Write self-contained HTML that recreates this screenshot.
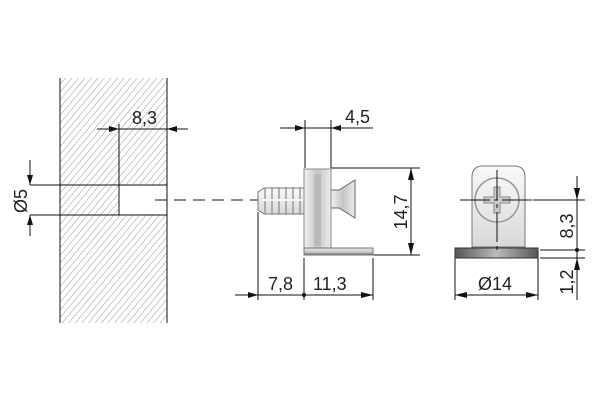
<!DOCTYPE html>
<html><head><meta charset="utf-8"><style>
html,body{margin:0;padding:0;background:#fff}
svg{display:block}
text{font-family:"Liberation Sans","DejaVu Sans",sans-serif;font-size:18px;fill:#222}
</style></head><body>
<svg width="600" height="400" viewBox="0 0 600 400" xmlns="http://www.w3.org/2000/svg">
<defs>
<pattern id="h" patternUnits="userSpaceOnUse" width="5" height="5" patternTransform="rotate(40)">
<line x1="0" y1="0" x2="0" y2="5" stroke="#777" stroke-width="0.8"/>
</pattern>
<marker id="a" viewBox="0 0 10 6" refX="10" refY="3" markerWidth="10" markerHeight="6" orient="auto" markerUnits="userSpaceOnUse">
<path d="M0,0 L10,3 L0,6 Z" fill="#111"/></marker>
<linearGradient id="g" x1="0" x2="1"><stop offset="0" stop-color="#f0f0f0"/><stop offset="0.5" stop-color="#c4c4c4"/><stop offset="1" stop-color="#ececec"/></linearGradient>
<linearGradient id="b" x1="0" x2="1"><stop offset="0" stop-color="#555"/><stop offset="0.5" stop-color="#bbb"/><stop offset="1" stop-color="#555"/></linearGradient>
<linearGradient id="ft" x1="0" x2="0" y1="0" y2="1"><stop offset="0" stop-color="#e8e8e8"/><stop offset="0.6" stop-color="#c8c8c8"/><stop offset="1" stop-color="#666"/></linearGradient>
<linearGradient id="f" x1="0" x2="0" y1="0" y2="1"><stop offset="0" stop-color="#fafafa"/><stop offset="1" stop-color="#d8d8d8"/></linearGradient>
</defs>
<g stroke="#111" stroke-width="1" fill="none">
<rect x="60" y="78" width="107" height="245" fill="url(#h)" stroke="none"/>
<rect x="119" y="185" width="48" height="30" fill="#fff" stroke="none"/>
<line x1="60" y1="78" x2="60" y2="323"/>
<line x1="167" y1="78" x2="167" y2="323"/>
<line x1="30" y1="185" x2="167" y2="185"/>
<line x1="30" y1="215" x2="167" y2="215"/>
<line x1="119" y1="124" x2="119" y2="215"/>
<line x1="97" y1="129" x2="119" y2="129" marker-end="url(#a)"/>
<line x1="188" y1="129" x2="167" y2="129" marker-end="url(#a)"/>
<line x1="119" y1="129" x2="167" y2="129"/>
<line x1="30" y1="160" x2="30" y2="185" marker-end="url(#a)"/>
<line x1="30" y1="236" x2="30" y2="215" marker-end="url(#a)"/>
<line x1="155" y1="200" x2="262" y2="200" stroke-dasharray="12,7"/>
<line x1="305" y1="120" x2="305" y2="168"/>
<line x1="331" y1="120" x2="331" y2="168"/>
<line x1="280" y1="128" x2="305" y2="128" marker-end="url(#a)"/>
<line x1="373" y1="128" x2="331" y2="128" marker-end="url(#a)"/>
<line x1="305" y1="128" x2="331" y2="128"/>
<line x1="331" y1="168" x2="420" y2="168"/>
<line x1="373" y1="255" x2="420" y2="255"/>
<line x1="411" y1="168" x2="411" y2="255"/>
<path d="M411,168 l-3,12 h6 z M411,255 l-3,-12 h6 z" fill="#111" stroke="none"/>
<line x1="258" y1="212" x2="258" y2="300"/>
<line x1="304" y1="258" x2="304" y2="300"/>
<line x1="373" y1="258" x2="373" y2="300"/>
<line x1="235" y1="295" x2="258" y2="295" marker-end="url(#a)"/>
<line x1="258" y1="295" x2="373" y2="295"/>
<path d="M373,295 l-12,-3 v6 z" fill="#111" stroke="none"/>
<circle cx="304" cy="295" r="2" fill="#111" stroke="none"/>
</g>
<g>
<path d="M258,192 l6,-4 h42 v26 h-42 l-6,-4 z" fill="url(#f)" stroke="#777"/>
<path d="M265,188 v26 M272,187 v28 M279,187 v28 M286,187 v28 M293,187 v28 M300,187 v28" stroke="#999" stroke-width="1.5"/>
<line x1="262" y1="200" x2="304" y2="200" stroke="#fff" stroke-width="2"/>
<path d="M331,190 h8 l16,-10 v38 l-16,-10 h-8 z" fill="url(#g)" stroke="#666"/>
<rect x="304" y="169" width="27" height="86" fill="url(#g)" stroke="#888"/>
<rect x="314" y="174" width="7" height="72" fill="#aaa" opacity="0.5"/>
<rect x="304" y="248" width="69" height="7" fill="url(#ft)" stroke="#777"/>
</g>
<g>
<path d="M472,247 v-70 q0,-11 11,-11 h31 q11,0 11,11 v70 z" fill="url(#f)" stroke="#777"/>
<rect x="455" y="248" width="83" height="10" fill="url(#b)" stroke="#333"/>
<circle cx="497" cy="200" r="22" fill="none" stroke="#999" stroke-width="1.5"/>
<path d="M494,187 h6 v10 h10 v6 h-10 v10 h-6 v-10 h-10 v-6 h10 z" fill="#ccc" stroke="#888"/>
</g>
<g stroke="#111" stroke-width="1" fill="none">
<line x1="460" y1="200" x2="533" y2="200" stroke-dasharray="30,4,4,4"/>
<line x1="497" y1="170" x2="497" y2="252" stroke-dasharray="30,4,4,4"/>
<line x1="533" y1="200" x2="585" y2="200"/>
<line x1="540" y1="250" x2="585" y2="250"/>
<line x1="540" y1="258" x2="585" y2="258"/>
<line x1="577" y1="176" x2="577" y2="300"/>
<path d="M577,200 l-3,-12 h6 z M577,258 l-3,12 h6 z" fill="#111" stroke="none"/>
<circle cx="577" cy="250" r="2" fill="#111" stroke="none"/>
<line x1="455" y1="258" x2="455" y2="300"/>
<line x1="538" y1="258" x2="538" y2="300"/>
<line x1="455" y1="295" x2="538" y2="295"/>
<path d="M455,295 l12,-3 v6 z M538,295 l-12,-3 v6 z" fill="#111" stroke="none"/>
</g>
<text x="132" y="124">8,3</text>
<text transform="translate(27,201) rotate(-90)" text-anchor="middle">Ø5</text>
<text x="345" y="123">4,5</text>
<text transform="translate(407,212) rotate(-90)" text-anchor="middle">14,7</text>
<text x="268" y="290">7,8</text>
<text x="313" y="290">11,3</text>
<text x="478" y="290">Ø14</text>
<text transform="translate(573,226) rotate(-90)" text-anchor="middle">8,3</text>
<text transform="translate(573,282) rotate(-90)" text-anchor="middle">1,2</text>
</svg>
</body></html>
